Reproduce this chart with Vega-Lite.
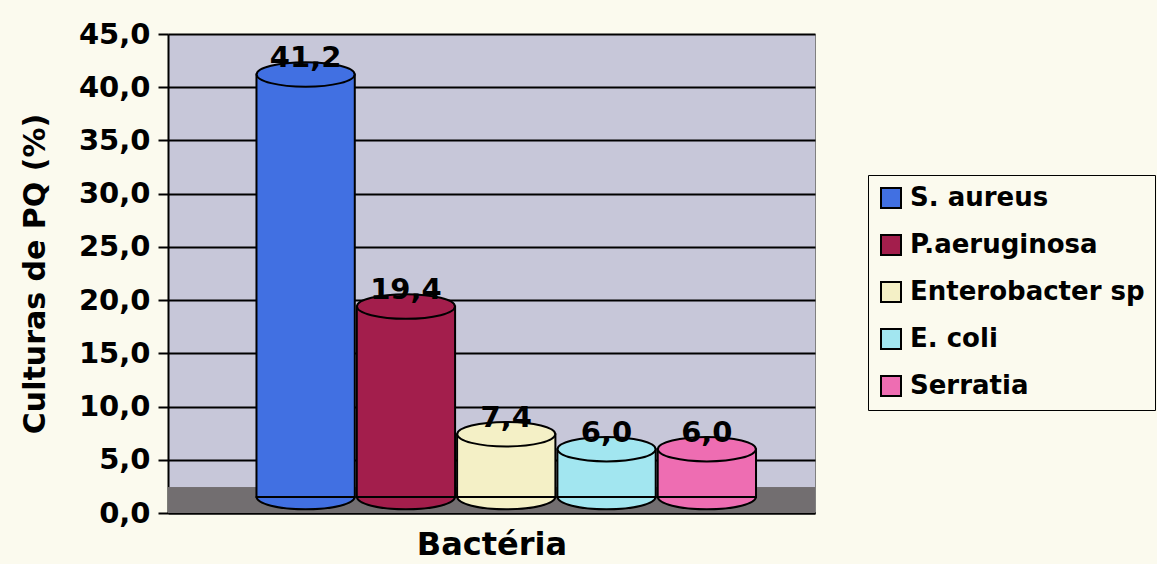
{
  "$schema": "https://vega.github.io/schema/vega-lite/v6.json",
  "autosize": "none",
  "width": 647,
  "height": 479,
  "padding": {"left": 168, "top": 34, "right": 342, "bottom": 51},
  "background": "#FBFAEE",
  "config": {
    "locale": {"number": {"decimal": ",", "thousands": ".", "grouping": [3], "currency": ["", ""]}},
    "font": "DejaVu Sans",
    "view": {"fill": "#C7C7D9", "stroke": "#808080", "strokeWidth": 1}
  },
  "data": {
    "values": [
      {"bacteria": "S. aureus", "pct": 41.2},
      {"bacteria": "P.aeruginosa", "pct": 19.4},
      {"bacteria": "Enterobacter sp", "pct": 7.4},
      {"bacteria": "E. coli", "pct": 6.0},
      {"bacteria": "Serratia", "pct": 6.0}
    ]
  },
  "encoding": {
    "x": {
      "field": "bacteria", "type": "nominal",
      "sort": ["S. aureus", "P.aeruginosa", "Enterobacter sp", "E. coli", "Serratia"],
      "scale": {"paddingInner": 0.02, "paddingOuter": 0.735, "align": 0.6},
      "axis": {
        "title": "Bactéria", "labels": false, "ticks": false,
        "domainColor": "#000000", "domainWidth": 2,
        "titleFont": "DejaVu Sans", "titleFontSize": 32, "titleFontWeight": "bold",
        "titleColor": "#000000", "titlePadding": 16
      }
    },
    "y": {
      "field": "pct", "type": "quantitative",
      "scale": {"domain": [0, 45]},
      "axis": {
        "title": "Culturas de PQ (%)", "values": [0, 5, 10, 15, 20, 25, 30, 35, 40, 45],
        "format": ".1f", "grid": true, "gridColor": "#000000", "gridWidth": 2,
        "domainColor": "#000000", "domainWidth": 2,
        "tickColor": "#000000", "tickWidth": 2, "tickSize": 10,
        "labelFont": "DejaVu Sans", "labelFontSize": 29, "labelFontWeight": "bold",
        "labelColor": "#000000", "labelPadding": 8,
        "titleFont": "DejaVu Sans", "titleFontSize": 30, "titleFontWeight": "bold",
        "titleColor": "#000000", "titlePadding": 28
      }
    },
    "color": {
      "field": "bacteria", "type": "nominal",
      "sort": ["S. aureus", "P.aeruginosa", "Enterobacter sp", "E. coli", "Serratia"],
      "scale": {
        "domain": ["S. aureus", "P.aeruginosa", "Enterobacter sp", "E. coli", "Serratia"],
        "range": ["#4170E2", "#A31E4C", "#F4F0C6", "#A2E6F0", "#EE6DB2"]
      },
      "legend": {
        "title": null, "orient": "none", "legendX": 700, "legendY": 141,
        "symbolType": "square", "symbolSize": 400, "symbolStrokeColor": "#000000",
        "symbolStrokeWidth": 2, "symbolOpacity": 1,
        "labelFont": "DejaVu Sans", "labelFontSize": 26, "labelFontWeight": "bold",
        "labelColor": "#000000", "labelLimit": 300, "labelOffset": 6,
        "rowPadding": 19, "padding": 10, "strokeColor": "#000000", "fillColor": "#FBFAEE"
      }
    }
  },
  "layer": [
    {
      "mark": {"type": "rect", "color": "#726E70", "opacity": 1},
      "encoding": {"y": {"datum": 0}, "y2": {"datum": 2.4}, "x": null, "color": null}
    },
    {
      "mark": {"type": "bar", "stroke": "#000000", "strokeWidth": 2},
      "encoding": {"y2": {"datum": 1.5}}
    },
    {
      "mark": {"type": "point", "shape": "M -1 0 A 1 0.25 0 0 0 1 0 Z", "filled": true, "fillOpacity": 1, "stroke": "#000000", "strokeWidth": 2, "size": 9600},
      "encoding": {"y": {"datum": 1.5}}
    },
    {
      "mark": {"type": "point", "shape": "M -1 0 A 1 0.25 0 1 0 1 0 A 1 0.25 0 1 0 -1 0 Z", "filled": true, "fillOpacity": 1, "stroke": "#000000", "strokeWidth": 2, "size": 9600}
    },
    {
      "mark": {"type": "text", "baseline": "middle", "dy": -16, "font": "DejaVu Sans", "fontSize": 29, "fontWeight": "bold", "color": "#000000"},
      "encoding": {
        "text": {"field": "pct", "type": "quantitative", "format": ".1f"},
        "color": {"value": "#000000"}
      }
    }
  ]
}
